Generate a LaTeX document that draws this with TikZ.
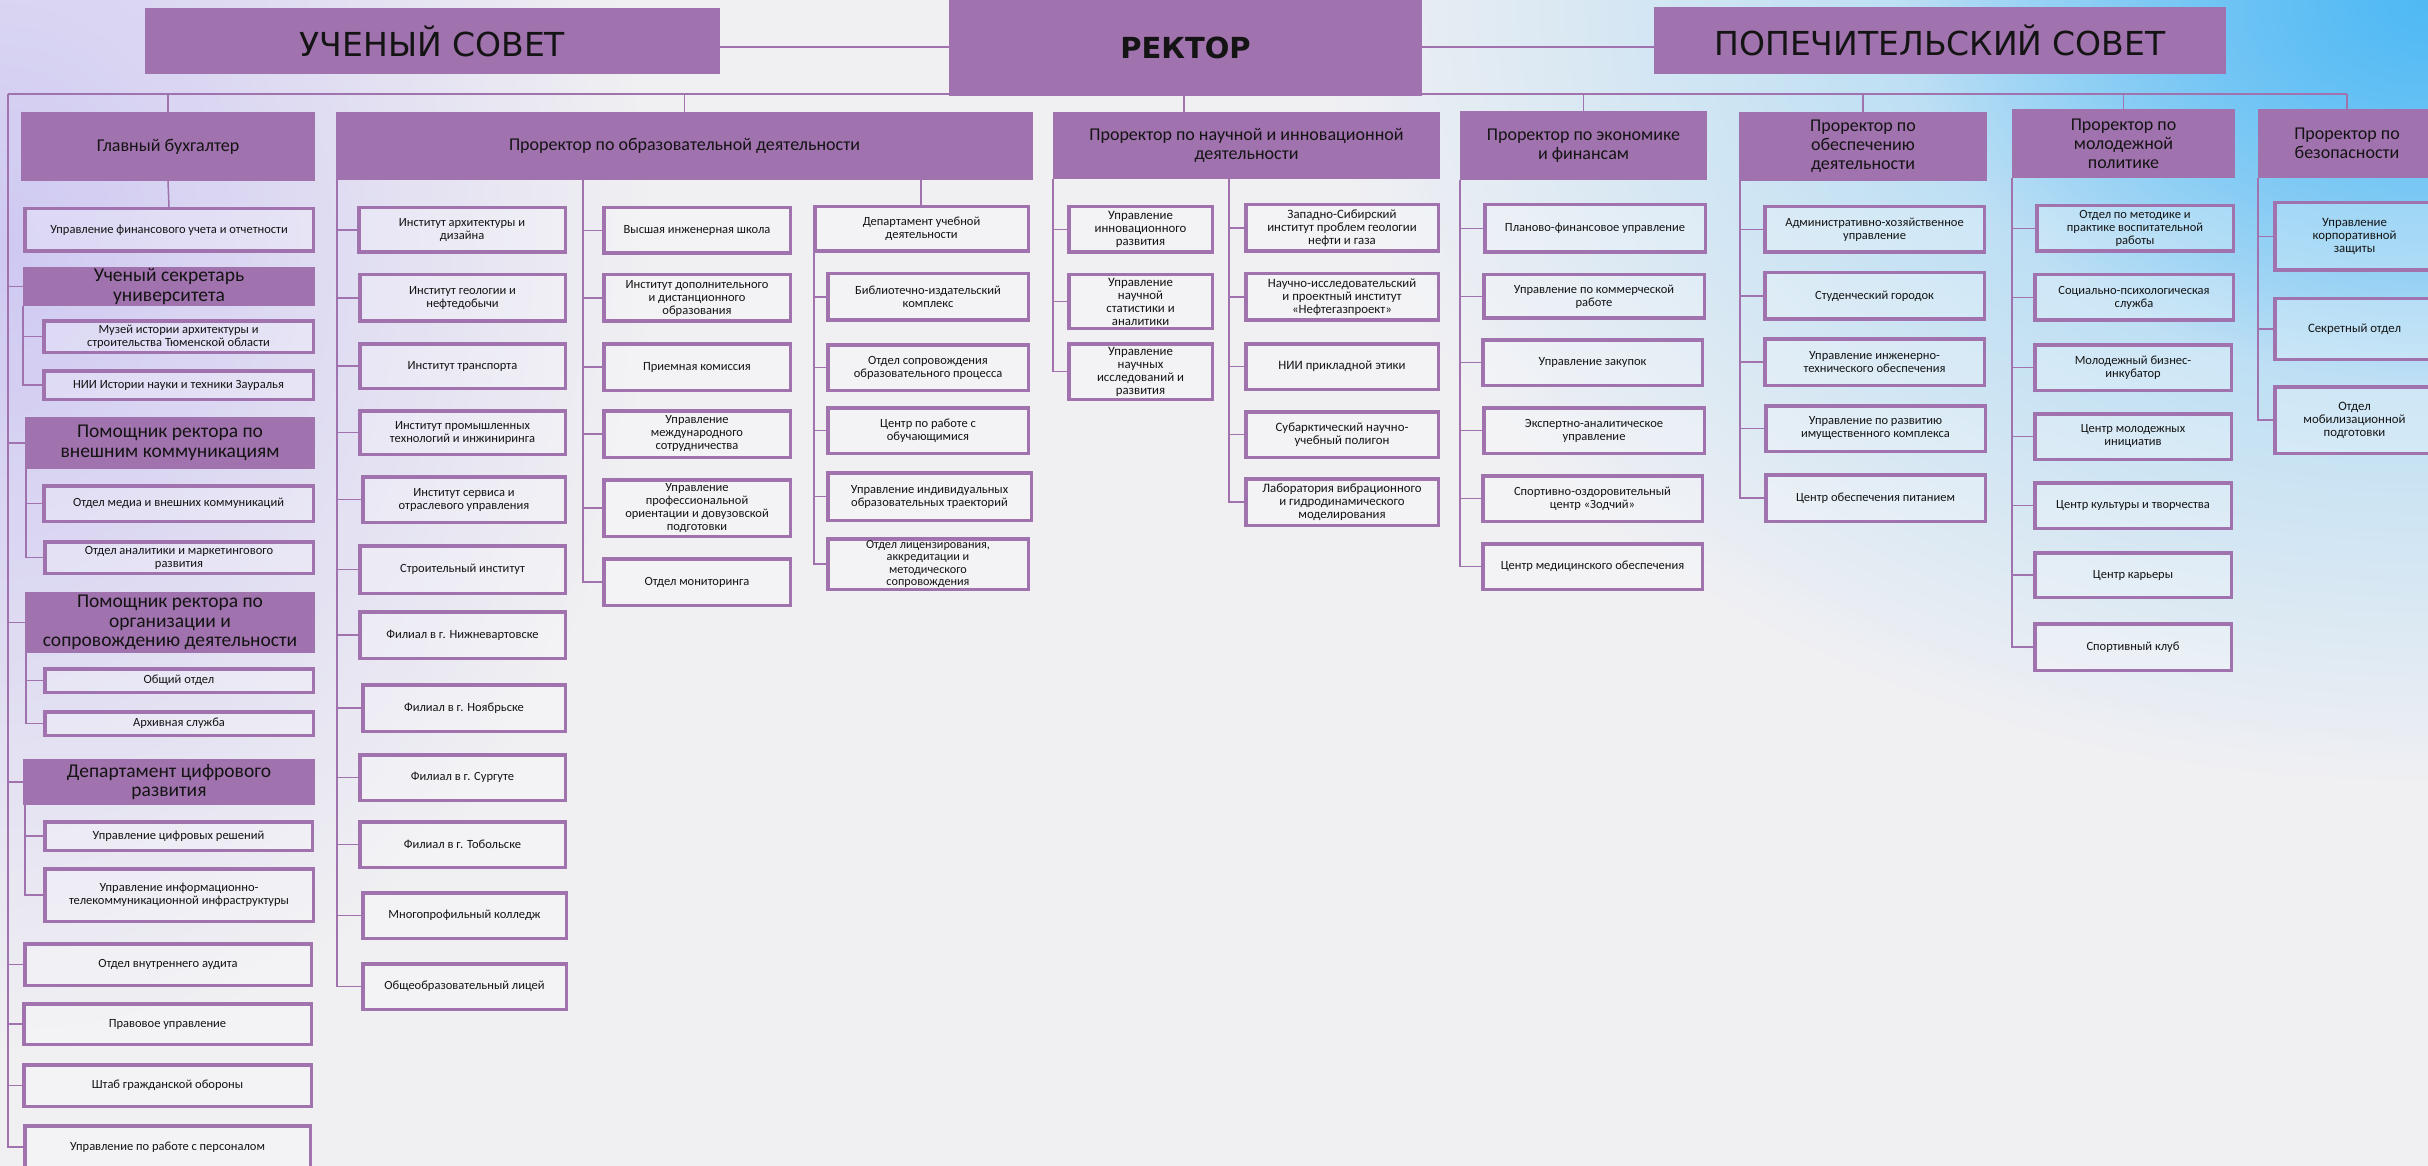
\documentclass[tikz,border=0pt]{standalone}
\usepackage{fontspec}
\setmainfont{Carlito}
\newfontfamily\titlefont{DejaVu Sans}
\usetikzlibrary{fadings}
\definecolor{pur}{HTML}{A072AE}
\definecolor{txt}{HTML}{141414}
\definecolor{bgbase}{HTML}{F0F0F3}
\definecolor{lav}{HTML}{CFC9F2}
\definecolor{sky}{HTML}{8FD0F5}
\definecolor{skyd}{HTML}{4FB9F4}
\pgfdeclarelayer{bgl}
\pgfdeclarelayer{lnl}
\pgfsetlayers{bgl,lnl,main}
\tikzfading[name=radfade, inner color=transparent!0, outer color=transparent!100]
\tikzset{
  obox/.style={draw=pur, line width=3.5pt, fill=white, fill opacity=0.25, text opacity=1,
    inner sep=1pt, align=center, text=txt, font=\fontsize{12.5}{13}\selectfont},
  hbox/.style={fill=pur, draw=none, inner sep=1pt, align=center, text=txt,
    font=\fontsize{18}{19}\selectfont},
  lhead/.style={font=\fontsize{19.5}{19.5}\selectfont},
  ttl/.style={font=\titlefont\fontsize{33}{33}\selectfont},
  sci/.style={font=\fontsize{12.8}{13}\selectfont},
  con/.style={draw=pur, line width=1.5pt},
}
\newcommand\ob[7][]{\node[obox,#1,minimum width={(#5-#3-3.5)*1pt},minimum height={(#6-#4-3.5)*1pt}] (#2) at ({(#3+#5)/2},{(#4+#6)/2}) {#7};}
\newcommand\hb[7][]{\node[hbox,#1,minimum width={(#5-#3)*1pt},minimum height={(#6-#4)*1pt}] (#2) at ({(#3+#5)/2},{(#4+#6)/2}) {#7};}
\begin{document}
\begin{tikzpicture}[x=1pt,y=-1pt]
\useasboundingbox (0,0) rectangle (2428,1166);
\clip (0,0) rectangle (2428,1166);
\begin{pgfonlayer}{bgl}
\fill[bgbase] (0,0) rectangle (2428,1166);
\fill[lav, path fading=radfade] (0,250) ellipse [x radius=650pt, y radius=800pt];
\fill[sky, path fading=radfade] (2428,0) ellipse [x radius=1100pt, y radius=780pt];
\fill[skyd, path fading=radfade] (2428,0) ellipse [x radius=520pt, y radius=380pt];
\end{pgfonlayer}

% top row
\hb[ttl]{us}{145}{8}{720}{74}{УЧЕНЫЙ СОВЕТ}
\hb[font=\titlefont\bfseries\fontsize{29}{29}\selectfont]{rector}{949}{0}{1422}{96}{РЕКТОР}
\hb[ttl]{ps}{1654}{7}{2226}{74}{ПОПЕЧИТЕЛЬСКИЙ СОВЕТ}
\coordinate (midline) at (0,47);
\coordinate (busL) at (8,94);
\coordinate (busR) at (2347,94);

% left column
\hb{gb}{21}{112}{315}{181}{Главный бухгалтер}
\ob{ufu}{23}{207}{315}{253}{Управление финансового учета и отчетности}
\hb[lhead]{usec}{23}{267}{315}{306}{Ученый секретарь\\университета}
\coordinate (usecT) at (23,306);
\ob{muz}{42}{319}{315}{354}{Музей истории архитектуры и\\строительства Тюменской области}
\ob{nii}{42}{369}{315}{401}{НИИ Истории науки и техники Зауралья}
\hb[lhead]{pvk}{25}{417}{315}{469}{Помощник ректора по\\внешним коммуникациям}
\coordinate (pvkT) at (26,469);
\ob{omk}{42}{484}{315}{523}{Отдел медиа и внешних коммуникаций}
\ob{oam}{43}{540}{315}{575}{Отдел аналитики и маркетингового\\развития}
\hb[lhead]{pos}{25}{592}{315}{653}{Помощник ректора по\\организации и\\сопровождению деятельности}
\coordinate (posT) at (26,653);
\ob{oo}{43}{667}{315}{694}{Общий отдел}
\ob{arh}{43}{710}{315}{737}{Архивная служба}
\hb[lhead]{dcr}{23}{759}{315}{805}{Департамент цифрового\\развития}
\coordinate (dcrT) at (25,805);
\ob{ucr}{43}{820}{314}{852}{Управление цифровых решений}
\ob{uit}{43}{867}{315}{923}{Управление информационно-\\телекоммуникационной инфраструктуры}
\ob{aud}{23}{942}{313}{987}{Отдел внутреннего аудита}
\ob{prv}{22}{1002}{313}{1046}{Правовое управление}
\ob{shg}{22}{1063}{313}{1108}{Штаб гражданской обороны}
\ob{upp}{23}{1124}{312}{1170}{Управление по работе с персоналом}

% education
\hb{ped}{336}{112}{1033}{180}{Проректор по образовательной деятельности}
\coordinate (pT1) at (337,180);
\coordinate (pT2) at (583,180);
\coordinate (pT3) at (921,180);
\ob{ia}{357}{206}{567}{254}{Институт архитектуры и\\дизайна}
\ob{ig}{358}{273}{567}{323}{Институт геологии и\\нефтедобычи}
\ob{itr}{358}{342}{567}{390}{Институт транспорта}
\ob{ipt}{358}{409}{567}{456}{Институт промышленных\\технологий и инжиниринга}
\ob{iso}{361}{475}{567}{524}{Институт сервиса и\\отраслевого управления}
\ob{sti}{358}{544}{567}{595}{Строительный институт}
\ob{fnv}{358}{610}{567}{660}{Филиал в г. Нижневартовске}
\ob{fno}{361}{683}{567}{733}{Филиал в г. Ноябрьске}
\ob{fsu}{358}{753}{567}{802}{Филиал в г. Сургуте}
\ob{fto}{358}{820}{567}{869}{Филиал в г. Тобольске}
\ob{mpk}{361}{891}{568}{940}{Многопрофильный колледж}
\ob{obl}{361}{962}{568}{1011}{Общеобразовательный лицей}
\ob{vis}{602}{206}{792}{255}{Высшая инженерная школа}
\ob{idd}{602}{273}{792}{323}{Институт дополнительного\\и дистанционного\\образования}
\ob{prk}{602}{342}{792}{392}{Приемная комиссия}
\ob{ums}{602}{409}{792}{459}{Управление\\международного\\сотрудничества}
\ob{upo}{602}{478}{792}{538}{Управление\\профессиональной\\ориентации и довузовской\\подготовки}
\ob{omn}{602}{557}{792}{607}{Отдел мониторинга}
\ob{dud}{813}{205}{1030}{253}{Департамент учебной\\деятельности}
\coordinate (dudT) at (814,253);
\ob{bik}{826}{272}{1030}{322}{Библиотечно-издательский\\комплекс}
\ob{oso}{826}{343}{1030}{392}{Отдел сопровождения\\образовательного процесса}
\ob{cro}{826}{406}{1030}{455}{Центр по работе с\\обучающимися}
\ob{uio}{826}{471}{1033}{522}{Управление индивидуальных\\образовательных траекторий}
\ob[font=\fontsize{12.2}{12.6}\selectfont]{olic}{826}{537}{1030}{591}{Отдел лицензирования,\\аккредитации и\\методического\\сопровождения}

% science
\hb{nauch}{1053}{112}{1440}{179}{Проректор по научной и инновационной\\деятельности}
\coordinate (dN) at (1184,94);
\coordinate (nT1) at (1053,179);
\coordinate (nT2) at (1229,179);
\ob[sci]{uir}{1067}{205}{1214}{254}{Управление\\инновационного\\развития}
\ob[sci]{uns}{1067}{273}{1214}{330}{Управление\\научной\\статистики и\\аналитики}
\ob[sci]{uni}{1067}{342}{1214}{401}{Управление\\научных\\исследований и\\развития}
\ob[sci]{zsi}{1244}{203}{1440}{253}{Западно-Сибирский\\институт проблем геологии\\нефти и газа}
\ob[sci]{nip}{1244}{272}{1440}{322}{Научно-исследовательский\\и проектный институт\\«Нефтегазпроект»}
\ob[sci]{npe}{1244}{342}{1440}{391}{НИИ прикладной этики}
\ob[sci]{sub}{1244}{410}{1440}{459}{Субарктический научно-\\учебный полигон}
\ob[sci]{lab}{1244}{477}{1440}{527}{Лаборатория вибрационного\\и гидродинамического\\моделирования}

% economics
\hb{econ}{1460}{111}{1707}{180}{Проректор по экономике\\и финансам}
\coordinate (eT) at (1460,180);
\ob{pfu}{1483}{203}{1707}{254}{Планово-финансовое управление}
\ob{ukr}{1482}{273}{1706}{320}{Управление по коммерческой\\работе}
\ob{uzk}{1481}{338}{1704}{387}{Управление закупок}
\ob{eau}{1482}{406}{1706}{455}{Экспертно-аналитическое\\управление}
\ob{soc}{1481}{474}{1704}{523}{Спортивно-оздоровительный\\центр «Зодчий»}
\ob{cmo}{1481}{542}{1704}{591}{Центр медицинского обеспечения}

% support
\hb{obesp}{1739}{112}{1987}{181}{Проректор по\\обеспечению\\деятельности}
\coordinate (oT) at (1740,181);
\ob{ahu}{1763}{205}{1986}{254}{Административно-хозяйственное\\управление}
\ob{sgo}{1763}{271}{1986}{321}{Студенческий городок}
\ob{uito}{1763}{337}{1986}{387}{Управление инженерно-\\технического обеспечения}
\ob{urik}{1764}{404}{1987}{453}{Управление по развитию\\имущественного комплекса}
\ob{cop}{1764}{473}{1987}{523}{Центр обеспечения питанием}

% youth
\hb{molod}{2012}{109}{2235}{178}{Проректор по\\молодежной\\политике}
\coordinate (mT) at (2012,178);
\ob{omp}{2035}{204}{2235}{253}{Отдел по методике и\\практике воспитательной\\работы}
\ob{spp}{2033}{273}{2235}{322}{Социально-психологическая\\служба}
\ob{mbi}{2033}{343}{2233}{392}{Молодежный бизнес-\\инкубатор}
\ob{cmi}{2033}{412}{2233}{461}{Центр молодежных\\инициатив}
\ob{ckt}{2033}{481}{2233}{530}{Центр культуры и творчества}
\ob{ckr}{2033}{551}{2233}{599}{Центр карьеры}
\ob{skl}{2033}{622}{2233}{672}{Спортивный клуб}

% security
\hb{bez}{2258}{109}{2436}{178}{Проректор по\\безопасности}
\coordinate (bT) at (2258,178);
\ob[sci]{ukz}{2273}{201}{2436}{272}{Управление\\корпоративной\\защиты}
\ob[sci]{sot}{2273}{297}{2436}{361}{Секретный отдел}
\ob[sci]{omob}{2273}{385}{2436}{455}{Отдел\\мобилизационной\\подготовки}

\begin{pgfonlayer}{lnl}
\draw[con] (us.east |- midline) -- (rector.west |- midline);
\draw[con] (rector.east |- midline) -- (ps.west |- midline);
\draw[con] (busL) -- (busR);
\draw[con] (gb.north |- busL) -- (gb.north);
\draw[con] (ped.north |- busL) -- (ped.north);
\draw[con] (dN) -- (dN |- nauch.north);
\draw[con] (econ.north |- busL) -- (econ.north);
\draw[con] (obesp.north |- busL) -- (obesp.north);
\draw[con] (molod.north |- busL) -- (molod.north);
\draw[con] (bez.north |- busL) -- (bez.north);
\draw[con] (gb.south) -- (ufu.north);
\foreach \c in {usec,pvk,pos,dcr,aud,prv,shg,upp} \draw[con] (busL) |- (\c.west);
\foreach \c in {muz,nii} \draw[con] (usecT) |- (\c.west);
\foreach \c in {omk,oam} \draw[con] (pvkT) |- (\c.west);
\foreach \c in {oo,arh} \draw[con] (posT) |- (\c.west);
\foreach \c in {ucr,uit} \draw[con] (dcrT) |- (\c.west);
\foreach \c in {ia,ig,itr,ipt,iso,sti,fnv,fno,fsu,fto,mpk,obl} \draw[con] (pT1) |- (\c.west);
\foreach \c in {vis,idd,prk,ums,upo,omn} \draw[con] (pT2) |- (\c.west);
\draw[con] (pT3) -- (pT3 |- dud.north);
\foreach \c in {bik,oso,cro,uio,olic} \draw[con] (dudT) |- (\c.west);
\foreach \c in {uir,uns,uni} \draw[con] (nT1) |- (\c.west);
\foreach \c in {zsi,nip,npe,sub,lab} \draw[con] (nT2) |- (\c.west);
\foreach \c in {pfu,ukr,uzk,eau,soc,cmo} \draw[con] (eT) |- (\c.west);
\foreach \c in {ahu,sgo,uito,urik,cop} \draw[con] (oT) |- (\c.west);
\foreach \c in {omp,spp,mbi,cmi,ckt,ckr,skl} \draw[con] (mT) |- (\c.west);
\foreach \c in {ukz,sot,omob} \draw[con] (bT) |- (\c.west);
\end{pgfonlayer}
\end{tikzpicture}
\end{document}
